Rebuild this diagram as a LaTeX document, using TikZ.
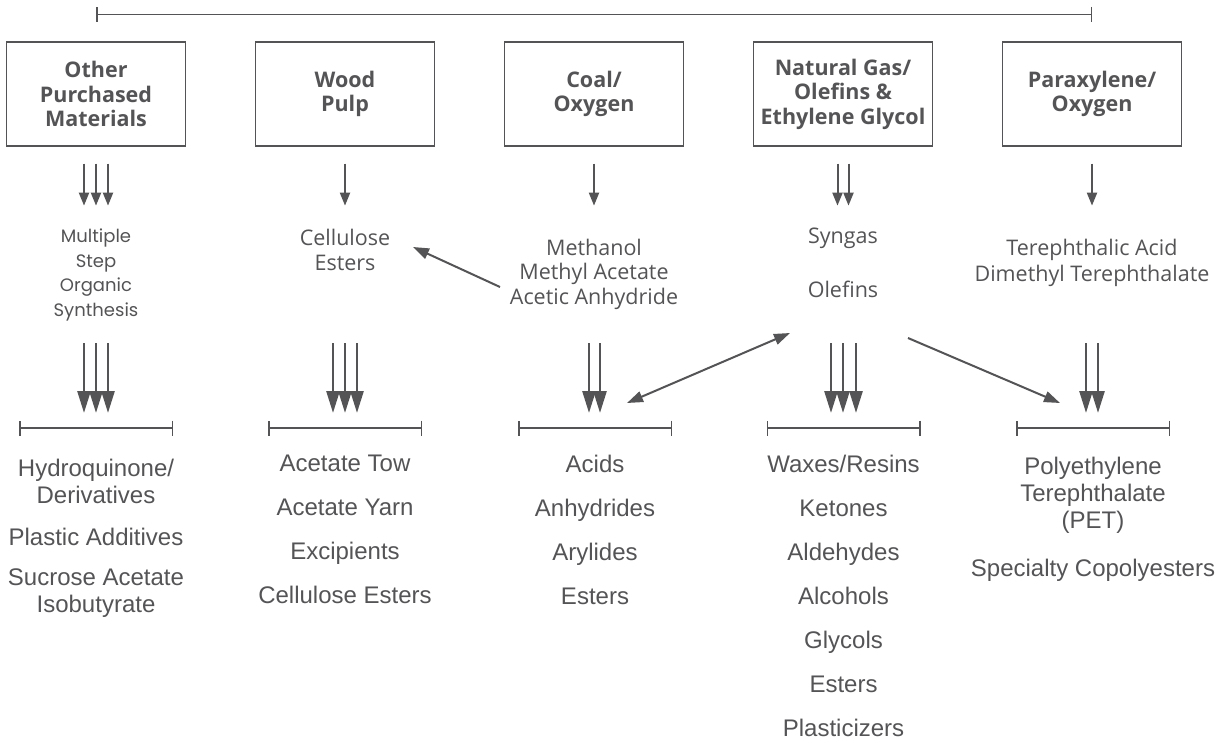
\documentclass[tikz,border=0pt]{standalone}
\usepackage{fontspec}
\setmainfont{Liberation Sans}
\newfontfamily\boxfont{Open Sans}
\newfontfamily\geofont{Poppins}
\usetikzlibrary{arrows.meta,calc,positioning}
\definecolor{ink}{HTML}{545456}

\begin{document}
\begin{tikzpicture}[x=1pt,y=-1pt,
 src/.style={draw=ink,line width=1.3pt,minimum width=179pt,minimum height=104pt,align=center,text=ink,
  font=\boxfont\bfseries\fontsize{21.5}{24.5}\selectfont},
 mid/.style={align=center,text=ink,font=\boxfont\fontsize{21.5}{24.5}\selectfont},
 prod/.style={align=center,text=ink,inner sep=0pt,anchor=north,font=\fontsize{24}{27}\selectfont},
 lead/.style={draw=ink,line width=2pt,-{Triangle[length=13pt,width=10pt]}},
 feed/.style={draw=ink,line width=2.6pt,-{Triangle[length=22pt,width=13pt]}},
 link/.style={draw=ink,line width=2pt},
 bracket/.style={draw=ink,line width=1.5pt,{Bar[width=15pt]}-{Bar[width=15pt]}}]
 \useasboundingbox (0,0) rectangle (1220,742);
 % feedstocks
 \node[src] (pm) at (96,94) {Other\\Purchased\\Materials};
 \node[src] (wp) at (345,94) {Wood\\Pulp};
 \node[src] (co) at (594,94) {Coal/\\Oxygen};
 \node[src] (ng) at (843,94) {Natural Gas/\\Olefins \&\\Ethylene Glycol};
 \node[src] (px) at (1092,94) {Paraxylene/\\Oxygen};
 \draw[bracket] ([yshift=27pt]pm.north)--([yshift=27pt]px.north);
 % intermediates
 \node[mid,font=\geofont\fontsize{18}{24.5}\selectfont] (ms) at (96,275) {Multiple\\Step\\Organic\\Synthesis};
 \node[mid] (ce) at (345,250) {Cellulose\\Esters};
 \node[mid] (mt) at (594,274) {Methanol\\Methyl Acetate\\Acetic Anhydride};
 \node[mid] (sg) at (843,238) {Syngas};
 \node[mid] (ol) at (843,289) {Olefins};
 \node[mid,font=\boxfont\fontsize{21.5}{26}\selectfont] (ta) at (1092,263) {Terephthalic Acid\\Dimethyl Terephthalate};
 \foreach \dx in {-12,0,12}{\draw[lead] ([xshift=\dx pt]pm.south) ++(0,17) -- ++(0,42);}
 \draw[lead] (wp.south) ++(0,17) -- ++(0,42);
 \draw[lead] (co.south) ++(0,17) -- ++(0,42);
 \foreach \dx in {-5.5,5.5}{\draw[lead] ([xshift=\dx pt]ng.south) ++(0,17) -- ++(0,42);}
 \draw[lead] (px.south) ++(0,17) -- ++(0,42);
 % product brackets
 \foreach \n/\x in {b1/96,b2/345,b3/595,b4/843.5,b5/1093}{
  \coordinate (\n) at (\x,428); \draw[bracket] ([xshift=-77pt]\n)--([xshift=77pt]\n);}
 \foreach \dx in {-12,0,12}{\draw[feed] ([xshift=\dx pt]b1) ++(0,-85) -- ++(0,70);}
 \foreach \dx in {-12,0,12}{\draw[feed] ([xshift=\dx pt]b2) ++(0,-85) -- ++(0,70);}
 \foreach \dx in {-6,5}{\draw[feed] ([xshift=\dx pt]b3) ++(0,-85) -- ++(0,70);}
 \foreach \dx in {-12.5,-0.5,12.5}{\draw[feed] ([xshift=\dx pt]b4) ++(0,-85) -- ++(0,70);}
 \foreach \dx in {-7,5}{\draw[feed] ([xshift=\dx pt]b5) ++(0,-85) -- ++(0,70);}
 % cross links
 \draw[link,-{Triangle[length=16pt,width=11pt]}] ($(mt)+(-94,13)$) -- ($(ce)+(68,-3)$);
 \draw[link,{Triangle[length=16pt,width=11pt]}-{Triangle[length=16pt,width=11pt]}] ($(b3)+(32,-25)$) -- ($(ol)+(-53,44)$);
 \draw[link,-{Triangle[length=16pt,width=11pt]}] ($(ol)+(65,49)$) -- ($(b5)+(-33,-25)$);
 % products
 \node[prod] (p1) at (96,459) {Hydroquinone/\\Derivatives\\[15pt]Plastic Additives\\[13pt]Sucrose Acetate\\Isobutyrate};
 \node[prod] (p2) at (345,455) {Acetate Tow\\[17pt]Acetate Yarn\\[17pt]Excipients\\[17pt]Cellulose Esters};
 \node[prod] (p3) at (595,455) {Acids\\[17pt]Anhydrides\\[17pt]Arylides\\[17pt]Esters};
 \node[prod] (p4) at (843.5,455) {Waxes/Resins\\[17pt]Ketones\\[17pt]Aldehydes\\[17pt]Alcohols\\[17pt]Glycols\\[17pt]Esters\\[17pt]Plasticizers};
 \node[prod] (p5) at (1093,457) {Polyethylene\\Terephthalate\\(PET)\\[21pt]Specialty Copolyesters};
\end{tikzpicture}
\end{document}
